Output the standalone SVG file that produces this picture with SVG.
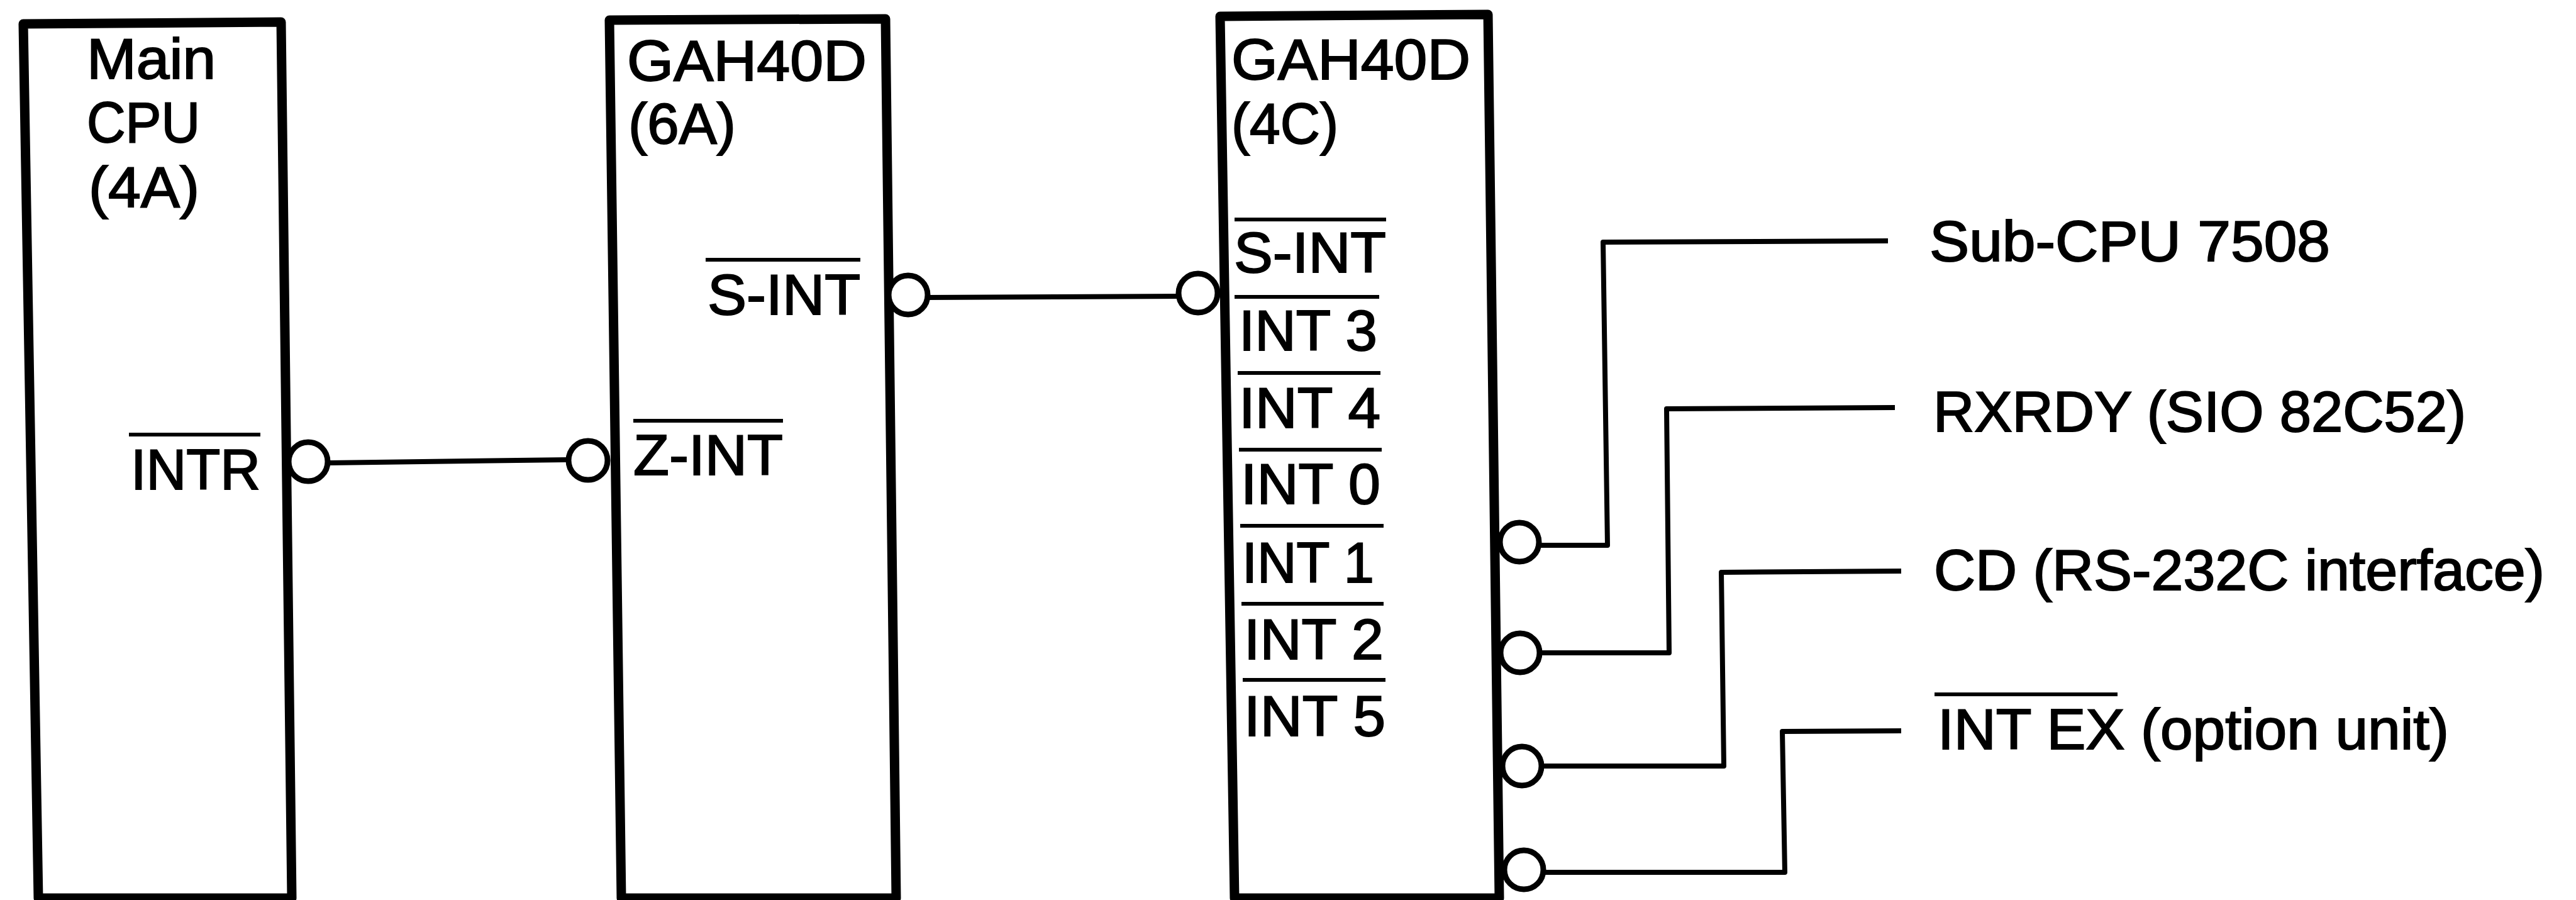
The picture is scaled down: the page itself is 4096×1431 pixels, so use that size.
<svg xmlns="http://www.w3.org/2000/svg" width="4096" height="1431" viewBox="0 0 4096 1431">
<style>
.box{fill:none;stroke:#000;stroke-width:15;stroke-linejoin:round}
.pin{fill:#fff;stroke:#000;stroke-width:9}
.wire{fill:none;stroke:#000;stroke-width:8;stroke-linejoin:round}
.bar{stroke:#000;stroke-width:6}
text{font-family:"Liberation Sans",Arial,sans-serif;font-size:90px;fill:#000;stroke:#000;stroke-width:2}
</style>
<rect width="4096" height="1431" fill="#fff"/>
<g id="connectors">
<path class="wire" d="M523 736L902 731"/>
<path class="wire" d="M1475 473L1878 471"/>
<path class="wire" d="M2448 867L2556 867L2549 385L3002 383"/>
<path class="wire" d="M2448 1038L2654 1038L2650 650L3013 648"/>
<path class="wire" d="M2455 1218L2741 1218L2737 910L3023 908"/>
<path class="wire" d="M2455 1387L2838 1387L2834 1163L3023 1162"/>
</g>
<g id="main-cpu">
<path class="box" d="M37 38L447 35L464 1428L61 1428Z"/>
<text x="138" y="125" textLength="205" lengthAdjust="spacingAndGlyphs">Main</text>
<text x="138" y="226" textLength="180" lengthAdjust="spacingAndGlyphs">CPU</text>
<text x="141" y="329" textLength="176" lengthAdjust="spacingAndGlyphs">(4A)</text>
<line class="bar" x1="205" y1="691" x2="414" y2="691"/>
<text x="208" y="778" textLength="206" lengthAdjust="spacingAndGlyphs">INTR</text>
<circle class="pin" cx="490" cy="734" r="31"/>
</g>
<g id="gah40d-6a">
<path class="box" d="M969 32L1408 30L1425 1428L988 1428Z"/>
<text x="997" y="128" textLength="381" lengthAdjust="spacingAndGlyphs">GAH40D</text>
<text x="999" y="228" textLength="171" lengthAdjust="spacingAndGlyphs">(6A)</text>
<line class="bar" x1="1122" y1="413" x2="1368" y2="413"/>
<text x="1125" y="500" textLength="243" lengthAdjust="spacingAndGlyphs">S-INT</text>
<line class="bar" x1="1007" y1="669" x2="1245" y2="669"/>
<text x="1007" y="755" textLength="238" lengthAdjust="spacingAndGlyphs">Z-INT</text>
<circle class="pin" cx="935" cy="732" r="31"/>
<circle class="pin" cx="1444" cy="469" r="31"/>
</g>
<g id="gah40d-4c">
<path class="box" d="M1940 26L2366 23L2384 1428L1963 1428Z"/>
<text x="1958" y="126" textLength="380" lengthAdjust="spacingAndGlyphs">GAH40D</text>
<text x="1958" y="228" textLength="170" lengthAdjust="spacingAndGlyphs">(4C)</text>
<line class="bar" x1="1963" y1="349" x2="2204" y2="349"/>
<text x="1962" y="433" textLength="242" lengthAdjust="spacingAndGlyphs">S-INT</text>
<line class="bar" x1="1963" y1="472" x2="2193" y2="472"/>
<text x="1970" y="557" textLength="220" lengthAdjust="spacingAndGlyphs">INT 3</text>
<line class="bar" x1="1968" y1="593" x2="2195" y2="593"/>
<text x="1970" y="680" textLength="225" lengthAdjust="spacingAndGlyphs">INT 4</text>
<line class="bar" x1="1970" y1="715" x2="2197" y2="715"/>
<text x="1973" y="801" textLength="222" lengthAdjust="spacingAndGlyphs">INT 0</text>
<line class="bar" x1="1972" y1="836" x2="2200" y2="836"/>
<text x="1975" y="926" textLength="210" lengthAdjust="spacingAndGlyphs">INT 1</text>
<line class="bar" x1="1974" y1="960" x2="2200" y2="960"/>
<text x="1978" y="1048" textLength="222" lengthAdjust="spacingAndGlyphs">INT 2</text>
<line class="bar" x1="1976" y1="1081" x2="2203" y2="1081"/>
<text x="1978" y="1170" textLength="225" lengthAdjust="spacingAndGlyphs">INT 5</text>
<circle class="pin" cx="1905" cy="466" r="31"/>
<circle class="pin" cx="2416" cy="862" r="31"/>
<circle class="pin" cx="2417" cy="1038" r="31"/>
<circle class="pin" cx="2420" cy="1218" r="31"/>
<circle class="pin" cx="2423" cy="1383" r="31"/>
</g>
<g id="sub-cpu"><text x="3068" y="415" textLength="637" lengthAdjust="spacingAndGlyphs">Sub-CPU 7508</text></g>
<g id="rxrdy"><text x="3074" y="686" textLength="847" lengthAdjust="spacingAndGlyphs">RXRDY (SIO 82C52)</text></g>
<g id="cd"><text x="3075" y="938" textLength="971" lengthAdjust="spacingAndGlyphs">CD (RS-232C interface)</text></g>
<g id="int-ex">
<line class="bar" x1="3076" y1="1104" x2="3367" y2="1104"/>
<text x="3081" y="1191" textLength="813" lengthAdjust="spacingAndGlyphs">INT EX (option unit)</text>
</g>
</svg>
